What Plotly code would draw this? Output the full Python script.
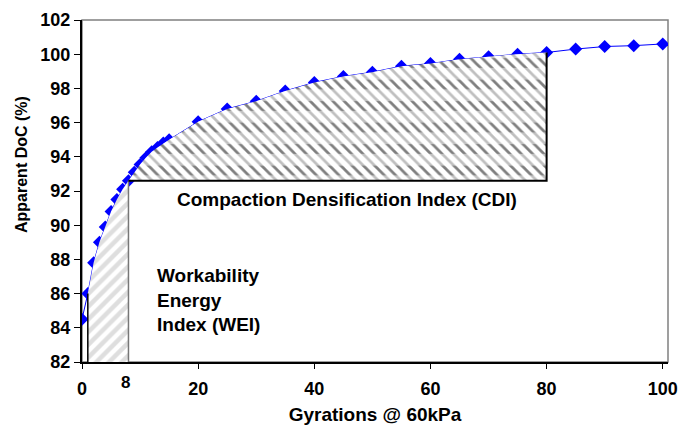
import plotly.graph_objects as go

# ---- data ----
gyrations = [0, 1, 2, 3, 4, 5, 6, 7, 8, 9, 10, 11, 12, 13, 14, 15,
             20, 25, 30, 35, 40, 45, 50, 55, 60, 65, 70, 75, 80, 85, 90, 95, 100]
doc = [84.5, 86.0, 87.8, 89.0, 89.9, 90.8, 91.5, 92.1, 92.6, 93.1, 93.55, 93.95, 94.3, 94.55, 94.8, 95.0,
       96.05, 96.8, 97.25, 97.85, 98.35, 98.7, 98.95, 99.3, 99.45, 99.7, 99.85, 100.0, 100.1, 100.3, 100.45, 100.5, 100.6]

x_ticks = [0, 20, 40, 60, 80, 100]
y_ticks = [82, 84, 86, 88, 90, 92, 94, 96, 98, 100, 102]

wei_start, wei_end = 1, 8      # Workability Energy Index range (gyrations)
cdi_start, cdi_end = 8, 80     # Compaction Densification Index range

x_title = "Gyrations @ 60kPa"
y_title = "Apparent DoC (%)"
cdi_label = "Compaction Densification Index (CDI)"
wei_label = "Workability<br>Energy<br>Index (WEI)"
extra_tick_label = "8"

FONT = "Liberation Sans, Arial, sans-serif"
BLUE = "#0000FF"
X_RANGE = [0, 100.9]
Y_RANGE = [82, 102]

val = dict(zip(gyrations, doc))
y_min = Y_RANGE[0]

fig = go.Figure()

# data curve (base axes)
fig.add_trace(go.Scatter(
    x=gyrations, y=doc, mode="lines+markers",
    line=dict(color=BLUE, width=1),
    marker=dict(symbol="diamond", size=10, color=BLUE),
    showlegend=False, hoverinfo="skip"))

# hatched areas drawn on overlaying axes, so they sit on top of the markers
ov = dict(xaxis="x2", yaxis="y2", showlegend=False, hoverinfo="skip")
ov3 = dict(xaxis="x3", yaxis="y3", showlegend=False, hoverinfo="skip")

# WEI area (gray diagonal stripes)
wx = [g for g in gyrations if wei_start <= g <= wei_end]
wy = [val[g] for g in wx]
fig.add_trace(go.Scatter(
    x=wx + [wei_end, wei_start], y=wy + [y_min, y_min],
    mode="lines", fill="toself", line=dict(width=0), fillcolor="white",
    fillpattern=dict(shape="/", fgcolor="#BDBDBD", bgcolor="white", size=9, solidity=0.5), **ov))
fig.add_trace(go.Scatter(x=[wei_start, wei_start], y=[y_min, val[wei_start]], mode="lines",
                         line=dict(color="black", width=1.5), **ov))
fig.add_trace(go.Scatter(x=[wei_end, wei_end], y=[y_min, val[wei_end]], mode="lines",
                         line=dict(color="#777777", width=1.5), **ov))

# CDI area (black dashed diagonal pattern: diagonals cut into rows by white bands)
cx = [g for g in gyrations if cdi_start <= g <= cdi_end]
cy = [val[g] for g in cx]
base = val[cdi_start]
fig.add_trace(go.Scatter(
    x=cx + [cdi_end, cdi_start], y=cy + [base, base],
    mode="lines", fill="toself", line=dict(width=0), fillcolor="white",
    fillpattern=dict(shape="\\", fgcolor="black", bgcolor="white", size=8, solidity=0.35), **ov))
fig.add_trace(go.Scatter(
    x=cx + [cdi_end, cdi_start], y=cy + [base, base],
    mode="lines", fill="toself", line=dict(width=0), fillcolor="white",
    fillpattern=dict(shape="-", fgcolor="#FFFFFF", bgcolor="rgba(255,255,255,0)", size=21.5, solidity=0.55), **ov3))
fig.add_trace(go.Scatter(x=[cdi_start, cdi_end, cdi_end], y=[base, base, val[cdi_end]], mode="lines",
                         line=dict(color="black", width=2), **ov3))

# annotations
fig.add_annotation(x=45.7, y=91.5, text=cdi_label, showarrow=False,
                   font=dict(family=FONT, size=19, color="black", weight="bold"))
fig.add_annotation(x=12.5, y=85.6, text=wei_label, showarrow=False, xanchor="left", align="left",
                   font=dict(family=FONT, size=19, color="black", weight="bold"))
fig.add_annotation(x=wei_end, y=0, yref="paper", yanchor="top", yshift=-9, xshift=-3, text=extra_tick_label,
                   showarrow=False, font=dict(family=FONT, size=17, color="black", weight="bold"))
fig.add_annotation(x=0, xref="paper", xanchor="center", xshift=-61, y=0.576, yref="paper", yanchor="middle",
                   text=y_title, textangle=-90,
                   showarrow=False, font=dict(family=FONT, size=16, color="black", weight="bold"))

# outer frame (gray top/right)
fig.add_shape(type="rect", xref="paper", yref="paper", x0=0, y0=0, x1=1, y1=1,
              line=dict(color="#808080", width=1.5), layer="below")

fig.update_layout(
    width=679, height=425,
    margin=dict(l=82, r=11, t=20, b=63, autoexpand=False),
    paper_bgcolor="white", plot_bgcolor="white",
    font=dict(family=FONT, color="black"),
    xaxis=dict(range=X_RANGE, tickvals=x_ticks, showgrid=False, zeroline=False, automargin=False,
               showline=True, linecolor="black", linewidth=2,
               ticks="outside", ticklen=5, tickcolor="black", tickwidth=1, ticklabelstandoff=4,
               tickfont=dict(family=FONT, size=18, weight="bold"),
               title=dict(text=x_title, font=dict(family=FONT, size=19, weight="bold"), standoff=12)),
    yaxis=dict(range=Y_RANGE, tickvals=y_ticks, showgrid=False, zeroline=False, automargin=False,
               showline=True, linecolor="black", linewidth=2,
               ticks="outside", ticklen=6, tickcolor="black", tickwidth=1,
               tickfont=dict(family=FONT, size=18, weight="bold")),
    xaxis2=dict(range=X_RANGE, overlaying="x", visible=False, automargin=False),
    yaxis2=dict(range=Y_RANGE, overlaying="y", visible=False, automargin=False),
    xaxis3=dict(range=X_RANGE, overlaying="x", visible=False, automargin=False),
    yaxis3=dict(range=Y_RANGE, overlaying="y", visible=False, automargin=False),
)

fig.write_html("out.html", config={"displayModeBar": False},
               post_script="document.body.style.margin='0px';document.body.style.overflow='hidden';")
